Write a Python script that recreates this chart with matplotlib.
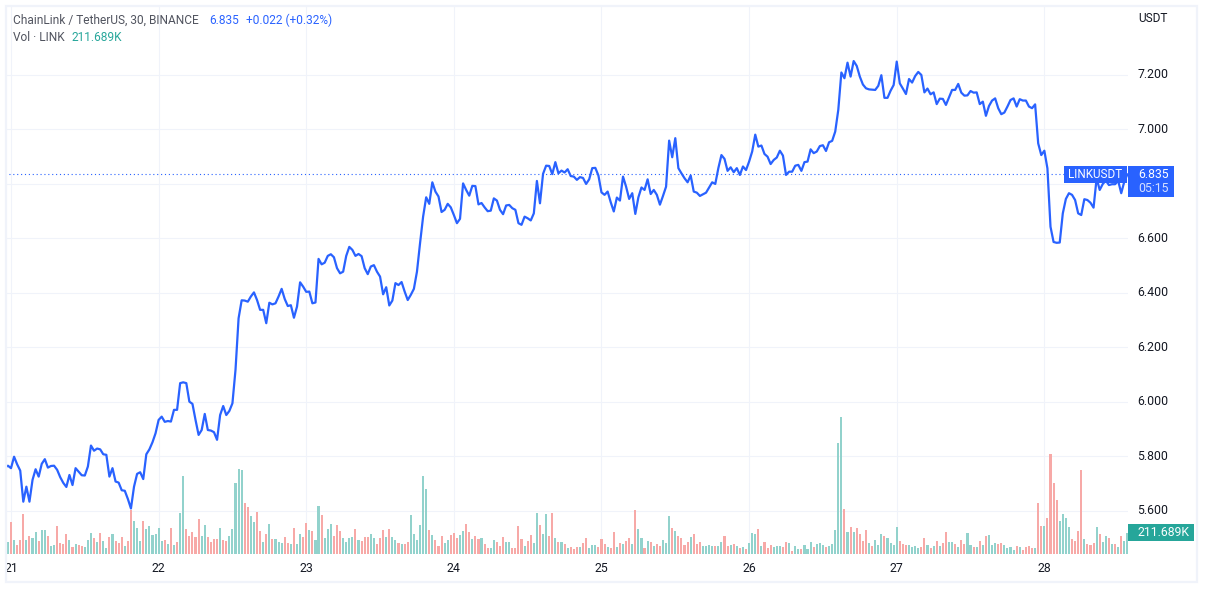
import matplotlib
matplotlib.use('Agg')
import matplotlib.pyplot as plt
from matplotlib.patches import Rectangle

# 30 min closes, first value sits just off the left edge
prices = [
    5.759, 5.766, 5.757, 5.799, 5.771, 5.748, 5.634, 5.689, 5.634, 5.714, 5.753, 5.726, 5.773, 5.790, 5.759, 5.765,
    5.766, 5.751, 5.724, 5.703, 5.688, 5.732, 5.695, 5.757, 5.744, 5.731, 5.730, 5.763, 5.840, 5.821, 5.829, 5.826,
    5.808, 5.806, 5.726, 5.757, 5.708, 5.704, 5.676, 5.674, 5.644, 5.609, 5.689, 5.736, 5.742, 5.717, 5.808, 5.826,
    5.852, 5.885, 5.934, 5.946, 5.927, 5.930, 5.928, 5.971, 5.971, 6.069, 6.072, 6.069, 6.001, 5.993, 5.934, 5.879,
    5.897, 5.956, 5.897, 5.895, 5.889, 5.861, 5.952, 5.985, 5.952, 5.967, 5.995, 6.118, 6.307, 6.373, 6.372, 6.368,
    6.387, 6.402, 6.374, 6.338, 6.338, 6.289, 6.364, 6.358, 6.362, 6.387, 6.415, 6.378, 6.352, 6.355, 6.309, 6.350,
    6.439, 6.423, 6.404, 6.405, 6.362, 6.365, 6.525, 6.505, 6.511, 6.536, 6.542, 6.531, 6.491, 6.472, 6.478, 6.536,
    6.569, 6.558, 6.536, 6.543, 6.535, 6.491, 6.469, 6.497, 6.502, 6.478, 6.460, 6.395, 6.421, 6.354, 6.372, 6.436,
    6.429, 6.440, 6.405, 6.374, 6.393, 6.415, 6.478, 6.582, 6.680, 6.751, 6.727, 6.806, 6.772, 6.754, 6.697, 6.705,
    6.727, 6.714, 6.686, 6.656, 6.672, 6.802, 6.778, 6.757, 6.793, 6.792, 6.725, 6.730, 6.714, 6.700, 6.702, 6.747,
    6.739, 6.705, 6.689, 6.721, 6.723, 6.711, 6.705, 6.656,
    6.650, 6.680, 6.674, 6.666, 6.692, 6.811, 6.729, 6.837, 6.867, 6.866, 6.836, 6.880, 6.839, 6.849, 6.842, 6.854,
    6.829, 6.827, 6.815, 6.825, 6.822, 6.800, 6.817, 6.858, 6.859, 6.831, 6.769, 6.760, 6.772, 6.733, 6.699, 6.750,
    6.739, 6.827, 6.790, 6.745, 6.766, 6.690, 6.751, 6.787, 6.778, 6.817, 6.763, 6.778, 6.760, 6.724, 6.756, 6.790,
    6.959, 6.898, 6.968, 6.858, 6.839, 6.821, 6.806, 6.831, 6.772, 6.768, 6.756, 6.762, 6.768, 6.787, 6.806, 6.800,
    6.858, 6.906, 6.892, 6.848, 6.861, 6.843, 6.858, 6.833, 6.864, 6.851, 6.882, 6.919, 6.981, 6.937, 6.941, 6.910,
    6.900, 6.873, 6.888, 6.897, 6.922, 6.904, 6.833, 6.845, 6.845, 6.867, 6.870, 6.848, 6.880, 6.882, 6.927, 6.913,
    6.919, 6.939,
    6.942, 6.921, 6.953, 6.958, 6.992, 7.072, 7.209, 7.188, 7.245, 7.194, 7.251, 7.233, 7.194, 7.165, 7.151, 7.147,
    7.146, 7.145, 7.160, 7.199, 7.116, 7.116, 7.142, 7.163, 7.249, 7.169, 7.150, 7.130, 7.185, 7.172, 7.196, 7.211,
    7.200, 7.136, 7.150, 7.129, 7.136, 7.093, 7.113, 7.112, 7.090, 7.117, 7.145, 7.145, 7.167, 7.135, 7.124, 7.125,
    7.141, 7.135, 7.136, 7.093, 7.102, 7.050, 7.086, 7.106, 7.114, 7.078, 7.056, 7.062, 7.084, 7.108, 7.114, 7.084,
    7.111, 7.106, 7.106, 7.084, 7.078, 7.092, 6.949, 6.906, 6.922, 6.857, 6.643, 6.587, 6.584, 6.585, 6.692, 6.745,
    6.766, 6.760, 6.741, 6.692, 6.686, 6.744, 6.741, 6.731, 6.713, 6.821, 6.778, 6.800, 6.812, 6.796, 6.799, 6.799,
    6.812, 6.766, 6.809, 6.835,
]

# volume in thousands of LINK
volumes = [
    120, 320, 140, 90, 140, 400, 140, 180, 160, 220, 130, 240, 240, 180, 80, 90, 280, 110, 100, 200,
    140, 70, 100, 90, 80, 70, 140, 210, 160, 120, 210, 130, 60, 170, 200, 130, 110, 170, 80, 130,
    440, 330, 260, 130, 330, 250, 280, 190, 200, 260, 130, 140, 100, 260, 90, 120, 410, 780, 250, 180,
    220, 170, 350, 180, 290, 170, 120, 150, 150, 260, 140, 130, 180, 250, 710, 850, 840, 510, 470, 380,
    320, 420, 230, 120, 200, 300, 150, 150, 120, 110, 170, 110, 100, 260, 100, 200, 170, 310, 240, 230,
    140, 480, 390, 160, 250, 300, 180, 290, 230, 160, 120, 160, 170, 250, 140, 130, 170, 170, 200, 160,
    100, 160, 240, 170, 250, 170, 140, 110,
    100, 100, 120, 390, 200, 140, 290, 780, 650, 240, 190, 140, 80, 180, 110, 140, 190, 210, 160, 190,
    230, 300, 220, 150, 180, 150, 160, 100, 60, 60, 140, 120, 80, 170, 120, 120, 60, 60, 280, 150,
    80, 130, 190, 110, 410, 290, 200, 400, 180, 410, 160, 120, 120, 100, 60, 70, 50, 70, 70, 110,
    160, 60, 90, 90, 70, 150, 100, 70, 60, 220, 70, 110, 100, 130, 160, 100, 440, 250, 160, 60,
    130, 120, 80, 100, 80, 140, 110, 380, 260, 230, 180, 160, 90, 120, 170, 200, 100, 120, 80, 80,
    90, 80, 80, 80, 120, 180, 80, 90, 100, 80, 60, 70, 50, 110, 210, 200, 250, 80, 120, 60,
    90, 70, 80, 80, 70, 120, 110, 30, 80, 50,
    50, 90, 50, 120, 70, 100, 110, 90, 70, 80, 100, 240, 1110, 1370, 450, 220, 270, 220, 260, 200,
    130, 240, 110, 80, 140, 90, 200, 180, 160, 110, 90, 270, 130, 100, 90, 90, 70, 80, 60, 70,
    160, 90, 60, 80, 130, 80, 110, 220, 120, 120, 100, 70, 140, 100, 210, 90, 70, 70, 130, 90,
    180, 190, 90, 110, 100, 110, 90, 60, 70, 40, 80, 70, 40, 70, 80, 60, 60, 510, 280, 280,
    360, 1000, 710, 540, 330, 400, 360, 270, 150, 130, 230, 840, 150, 100, 90, 110, 270, 200, 120, 180,
    160, 100, 100, 70, 180, 130, 211.689,
]

# G = close above open, R = close below open
bar_dirs = (
    'GRGRRRGRGG' 'RGGRGGRRRR' 'GRGRRGGGRG' 'RGGRGRRRGR' 'RGGGRGGGGG' 'GRGRGRGGRR' 'RRRGGRRRRG'
    'RRGGGGGRRG' 'GRRGRGRGGG' 'RRGRGGRRGR' 'GGRGGGRRRG' 'GGGRGRRRGG' 'RRRGRGGR'
    'GRRGGGGGGR' 'GRRRGGRRRG' 'GRRGRRGRRG' 'GRRRGGRRRR' 'GRRGGRGGRR' 'GRGRGRRRGR' 'RGGGRRRGRR'
    'GRGRRGRGGR' 'GRGRRGGGRG' 'RRRRGRRRGG' 'GGRGGRRGRG' 'RGRGGGRGRR' 'RGGGRRGRGG'
    'RGGGRGGGRG' 'GGGGRGRGRR' 'RRGRGGGRGG' 'GGRRRGGGGR' 'RGRGRGRRGG' 'RGRRGGRGRG' 'RGGGRRGGGG'
    'RGRRRRGRRG' 'RRRRGGGGRR' 'RRGRRRGRGG' 'RGRGRGG'
)

day_labels = ['21', '22', '23', '24', '25', '26', '27', '28']
price_ticks = [5.6, 5.8, 6.0, 6.2, 6.4, 6.6, 6.8, 7.0, 7.2]
last_price = 6.835

BARS_PER_DAY = 48
BLUE = '#2962ff'
TEAL = '#26a69a'
GRID = '#f0f3fa'
TEXT = '#131722'
LEGEND = '#50535e'
FONT = 'Roboto'

W, H = 1205, 589
fig = plt.figure(figsize=(W / 100, H / 100), dpi=100, facecolor='white')

# pane runs from px 5 to 1128 across, px 6 to 554 down
pos = [5 / W, 1 - 554 / H, 1123 / W, 548 / H]
xlim = (-1.951, 363.2)
ylim = (5.442, 7.453)

ax = fig.add_axes(pos, zorder=1)
ax.set_xlim(xlim)
ax.set_ylim(ylim)
ax.set_xticks([i * BARS_PER_DAY for i in range(len(day_labels))], day_labels)
# the 6.800 label is hidden behind the last price tag
ax.set_yticks(price_ticks, ['' if t == 6.8 else '%.3f' % t for t in price_ticks])
ax.yaxis.tick_right()
ax.tick_params(axis='x', length=0, pad=5.5, labelsize=8.8, labelcolor=TEXT)
ax.tick_params(axis='y', length=0, pad=6.5, labelsize=8.8, labelcolor=TEXT)
for lab in ax.get_xticklabels() + ax.get_yticklabels():
    lab.set_fontfamily(FONT)
for lab in ax.get_yticklabels():
    lab.set_verticalalignment('center')
ax.grid(True, color=GRID, lw=0.8)
ax.set_axisbelow(True)
for s in ax.spines.values():
    s.set_visible(False)

# volume pane, bars under the price line
ax_vol = fig.add_axes(pos, zorder=2)
ax_vol.patch.set_visible(False)
ax_vol.set_xlim(xlim)
ax_vol.set_ylim(0, 5480)
ax_vol.axis('off')
bar_x = list(range(-1, len(volumes) - 1))
bar_cols = ['#92d2cc' if d == 'G' else '#f7a9a7' for d in bar_dirs]
ax_vol.bar(bar_x, volumes, width=0.68, color=bar_cols, linewidth=0)

ax_line = fig.add_axes(pos, zorder=3)
ax_line.patch.set_visible(False)
ax_line.set_xlim(xlim)
ax_line.set_ylim(ylim)
ax_line.axis('off')
line_x = list(range(-2, len(prices) - 2))
ax_line.plot(line_x, prices, color=BLUE, lw=1.6, solid_joinstyle='round')
ax_line.axhline(last_price, color=BLUE, lw=0.8, linestyle=(0, (1, 2.5)))

# overlay in pixel coords for frame, legend and axis labels
ov = fig.add_axes([0, 0, 1, 1], zorder=4)
ov.set_xlim(0, W)
ov.set_ylim(H, 0)
ov.axis('off')
ov.add_patch(Rectangle((5.5, 6), 1191.5, 576, fill=False, ec=GRID, lw=1.6))

ov.text(1138, 19, 'USDT', fontsize=8.6, color=TEXT, family=FONT, va='center')

ov.text(13, 20.5, 'ChainLink / TetherUS, 30, BINANCE', fontsize=8.6, color=LEGEND, family=FONT, va='center')
ov.text(209, 20.5, '6.835', fontsize=8.6, color=BLUE, family=FONT, va='center')
ov.text(246, 20.5, '+0.022 (+0.32%)', fontsize=8.6, color=BLUE, family=FONT, va='center')
ov.text(13, 37.5, 'Vol · LINK', fontsize=8.6, color=LEGEND, family=FONT, va='center')
ov.text(72, 37.5, '211.689K', fontsize=8.6, color=TEAL, family=FONT, va='center')

ov.add_patch(Rectangle((1064, 166), 63, 17, fc=BLUE, ec='none'))
ov.text(1095.5, 174.5, 'LINKUSDT', fontsize=8.4, color='white', family=FONT, ha='center', va='center')
ov.add_patch(Rectangle((1128, 166), 46, 31, fc=BLUE, ec='none'))
ov.text(1138, 174.5, '%.3f' % last_price, fontsize=8.8, color='white', family=FONT, va='center')
ov.text(1138, 189, '05:15', fontsize=8.8, color='#d4e0ff', family=FONT, va='center')

ov.add_patch(Rectangle((1128, 524), 66, 17, fc=TEAL, ec='none'))
ov.text(1138, 532.5, '211.689K', fontsize=8.8, color='white', family=FONT, va='center')

fig.savefig('out.png', dpi=100)
